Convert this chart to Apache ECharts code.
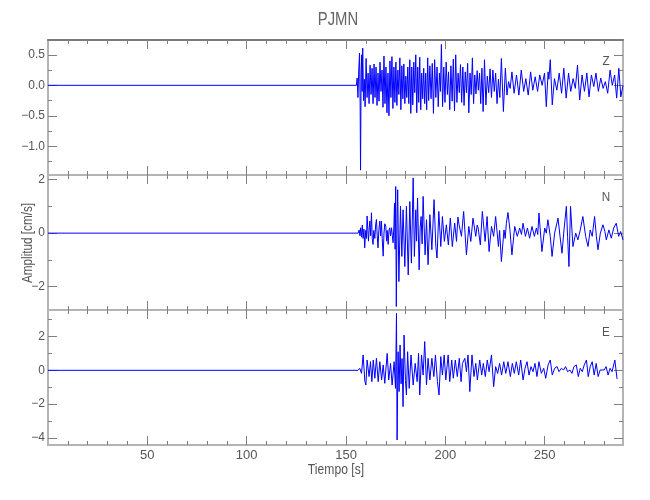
<!DOCTYPE html>
<html><head><meta charset="utf-8">
<script src="https://cdn.jsdelivr.net/npm/echarts@6/dist/echarts.min.js"></script>
<style>html,body{margin:0;padding:0;background:#fff}#c{width:650px;height:500px}</style>
</head><body><div id="c"></div>
<script>
// ---- data (time [s], amplitude [cm/s]) ----
const timeRange = [0, 289.4];
const xMajorTicks = [50, 100, 150, 200, 250];
const xMinorTicks = [10,20,30,40,60,70,80,90,110,120,130,140,160,170,180,190,210,220,230,240,260,270,280];

const channels = ['Z', 'N', 'E'];
const zRange = [-1.47, 0.743];
const nRange = [-2.87, 2.17];
const eRange = [-4.42, 3.57];
const zTicks = [0.5, 0, -0.5, -1];
const zTickLabels = ['0.5', '0.0', '\u22120.5', '\u22121.0'];
const zMinor = [0.25, -0.25, -0.75, -1.25];
const nTicks = [2, 0, -2];
const nTickLabels = ['2', '0', '\u22122'];
const nMinor = [1, -1];
const eTicks = [2, 0, -2, -4];
const eTickLabels = ['2', '0', '\u22122', '\u22124'];
const eMinor = [3, 1, -1, -3];

const zTrace = [[0,0],[155.2,0],[155.6,0.12],[156.0,-0.2],[156.4,0.25],[156.8,0.53],[157.1,-0.3],[157.3,-1.39],[157.6,0.2],[157.9,0.5],[158.1,-0.1],[158.4,0.61],[158.8,-0.25],[159.2,0.1],[159.6,-0.35],[160.1,0.44],[160.6,-0.2],[161.1,0.2],[161.6,-0.3],[162.1,0.33],[162.6,-0.15],[163.1,0.28],[163.6,-0.3],[164.1,0.35],[164.6,-0.2],[165.1,0.3],[165.6,-0.33],[166.1,0.2],[166.6,-0.26],[167.1,0.38],[167.6,-0.1],[168.1,0.25],[168.6,-0.36],[169.1,0.48],[169.6,-0.3],[170.1,0.3],[170.6,-0.45],[171.1,0.2],[171.6,-0.5],[172.1,0.4],[172.6,-0.2],[173.1,0.47],[173.6,-0.38],[174.1,0.3],[174.6,-0.28],[175.1,0.38],[175.6,-0.33],[176.1,0.25],[176.6,-0.15],[177.1,0.45],[177.6,-0.4],[178.1,0.32],[178.6,-0.22],[179.1,0.35],[179.6,-0.3],[180.1,0.15],[180.6,-0.2],[181.1,0.3],[181.6,-0.3],[182.1,0.42],[182.6,-0.46],[183.1,0.3],[183.6,-0.32],[184.1,0.38],[184.6,-0.12],[185.1,0.5],[185.6,-0.45],[186.1,0.3],[186.6,-0.28],[187.1,0.46],[187.6,-0.4],[188.1,0.2],[188.6,-0.22],[189.1,0.28],[189.6,-0.3],[190.1,0.2],[190.6,-0.4],[191.1,0.45],[191.6,-0.25],[192.2,0.32],[192.8,-0.22],[193.4,0.36],[194.0,-0.46],[194.6,0.42],[195.2,-0.2],[195.8,0.3],[196.4,-0.35],[197.0,0.2],[197.5,-0.1],[198.0,0.67],[198.6,-0.35],[199.2,0.3],[199.8,-0.28],[200.4,0.38],[201.0,-0.15],[201.6,0.22],[202.2,-0.4],[202.8,0.32],[203.4,-0.26],[204.0,0.43],[204.6,-0.42],[205.2,0.5],[205.8,-0.28],[206.4,0.2],[207.0,-0.12],[207.6,0.34],[208.2,-0.28],[208.8,0.3],[209.4,-0.33],[210.0,0.22],[210.6,-0.12],[211.2,0.36],[211.8,-0.45],[212.4,0.2],[213.0,-0.15],[213.6,0.45],[214.2,-0.3],[214.8,0.17],[215.4,-0.14],[216.0,0.24],[216.6,-0.08],[217.2,0.2],[217.8,-0.3],[218.4,0.28],[219.0,-0.43],[219.7,0.42],[220.4,-0.32],[221.1,0.15],[221.8,-0.12],[222.5,0.27],[223.2,-0.2],[223.9,0.25],[224.6,-0.1],[225.3,0.2],[226.0,-0.3],[226.7,0.1],[227.4,-0.2],[228.2,0.44],[229.2,-0.43],[230.2,0.28],[231.0,-0.16],[231.8,0.06],[232.6,-0.05],[233.5,0.22],[234.6,-0.13],[235.8,0.17],[237.0,-0.16],[238.2,0.25],[239.4,-0.1],[240.5,0.11],[241.7,-0.16],[242.9,0.22],[244.0,-0.08],[245.2,0.14],[246.4,-0.1],[247.5,0.17],[248.7,0.0],[249.9,0.2],[250.8,-0.35],[251.7,0.22],[252.1,0.1],[252.8,0.42],[253.8,-0.32],[254.9,0.11],[256.1,-0.08],[257.3,0.2],[258.5,-0.13],[259.6,0.28],[260.8,-0.21],[262.0,0.2],[263.1,-0.1],[264.3,0.11],[265.4,-0.05],[266.5,0.33],[267.6,-0.24],[268.8,0.17],[270.0,-0.1],[271.2,0.2],[272.3,-0.19],[273.5,0.17],[274.7,-0.02],[275.8,0.2],[277.0,-0.1],[278.2,0.12],[279.4,-0.05],[280.5,0.06],[281.7,-0.13],[282.9,0.25],[284.0,0.0],[285.2,0.17],[286.2,-0.21],[287.3,0.28],[288.3,-0.19],[289.4,0.0]];

const nTrace = [[0,0],[156.1,0],[156.6,0.12],[157.0,-0.1],[157.4,0.2],[157.8,-0.15],[158.2,0.3],[158.6,-0.2],[159.0,0.15],[159.4,-0.55],[159.9,0.1],[160.3,-0.2],[160.6,0.64],[161.0,0.1],[161.3,-0.3],[161.7,0.2],[162.0,0.45],[162.4,-0.1],[162.8,0.76],[163.2,-0.2],[163.6,-0.42],[164.0,0.1],[164.5,-0.2],[164.9,0.3],[165.3,0.51],[165.7,-0.1],[166.1,-0.55],[166.5,0.1],[167.0,0.45],[167.4,-0.1],[167.8,0.45],[168.2,-0.2],[168.7,-0.86],[169.1,0.0],[169.5,0.35],[170.0,0.26],[170.4,-0.3],[170.7,0.1],[171.2,-0.42],[171.6,0.1],[172.0,0.2],[172.4,-0.1],[172.9,0.2],[173.3,-0.1],[173.7,-0.36],[174.1,0.3],[174.4,1.12],[174.7,-0.6],[175.0,1.74],[175.3,-2.74],[175.7,0.5],[176.0,1.62],[176.6,-1.81],[177.4,1.0],[178.1,-0.87],[178.7,0.87],[179.6,-1.25],[180.4,1.0],[181.3,-1.56],[182.1,1.18],[182.9,-1.12],[183.8,2.06],[184.4,-0.87],[185.1,0.87],[185.5,-0.3],[186.0,1.31],[186.8,-1.37],[187.3,0.2],[187.8,0.62],[188.3,-0.4],[188.8,1.37],[189.8,-0.81],[190.5,0.5],[191.3,-1.18],[192.2,0.69],[193.2,-0.62],[194.3,1.25],[195.2,-0.5],[195.8,-0.93],[196.7,0.81],[197.7,-0.5],[198.5,0.62],[199.5,-0.31],[200.5,0.31],[201.5,-0.44],[202.5,0.56],[203.5,-0.5],[204.7,0.37],[205.6,-0.31],[206.3,0.6],[206.9,0.31],[208.1,-0.12],[209.2,0.81],[210.6,-0.81],[211.8,0.25],[212.8,-0.31],[213.9,0.56],[215.3,-0.12],[216.0,0.3],[216.5,0.19],[217.6,-0.44],[218.6,0.81],[220.0,-0.31],[221.0,0.62],[222.0,-0.69],[223.2,0.25],[224.3,-0.12],[225.3,0.62],[226.7,-0.5],[227.3,0.1],[228.2,-1.06],[229.5,0.12],[230.1,-0.2],[230.7,0.37],[231.5,0.77],[232.5,0.12],[233.5,-0.81],[234.9,0.25],[236.2,-0.12],[237.4,0.19],[238.3,-0.05],[239.1,0.37],[240.3,-0.12],[241.3,0.19],[242.4,-0.19],[243.6,0.25],[244.8,-0.12],[245.8,0.19],[246.5,-0.05],[247.1,0.75],[248.6,-0.69],[250.0,0.19],[250.8,0.0],[251.6,0.5],[252.8,-0.12],[253.7,-0.87],[255.0,0.0],[256.7,0.56],[257.7,-0.12],[258.7,-0.75],[259.7,0.12],[260.9,1.0],[261.5,-0.12],[262.2,-1.25],[263.0,1.0],[264.2,-0.5],[265.6,0.0],[266.7,-0.25],[267.9,0.12],[269.2,0.62],[270.6,-0.12],[271.8,-0.5],[272.9,0.12],[273.9,-0.12],[275.1,0.62],[276.0,-0.12],[276.8,-0.62],[278.0,0.0],[279.3,0.31],[280.3,0.06],[281.0,-0.25],[282.3,0.12],[283.5,-0.19],[284.7,0.19],[286.0,0.37],[287.2,-0.12],[288.2,0.06],[289.4,-0.25]];

const eTrace = [[0,0],[156.0,0],[156.9,0.12],[157.8,-0.18],[158.6,0.91],[159.5,-0.67],[160.0,-0.87],[160.6,0.61],[161.6,-0.37],[162.3,0.51],[163.0,-0.67],[163.7,0.61],[164.5,-0.47],[165.3,0.71],[166.2,-0.67],[167.0,0.51],[167.9,-0.57],[168.7,0.32],[169.5,-0.77],[170.7,1.0],[171.5,-0.57],[172.4,0.41],[173.2,-0.87],[174.2,0.51],[174.9,-1.07],[175.4,3.37],[175.7,-4.12],[176.2,1.1],[176.7,-1.26],[177.2,1.5],[177.7,-0.8],[178.2,0.7],[178.7,-2.15],[179.2,2.09],[179.9,-0.6],[180.4,-1.46],[181.0,1.1],[181.8,-1.07],[182.7,0.91],[183.8,-0.87],[184.8,0.41],[185.8,-0.67],[186.5,1.0],[187.1,-1.46],[188.0,0.91],[188.8,-0.28],[189.6,1.7],[190.5,-0.87],[191.3,0.71],[192.2,-0.57],[193.2,0.71],[194.2,-0.37],[195.0,0.91],[196.0,-0.67],[196.8,-1.46],[197.7,0.81],[198.5,-0.28],[199.4,0.91],[200.2,-0.57],[201.4,0.91],[202.2,-0.67],[203.2,0.61],[204.0,-0.47],[205.0,0.61],[206.0,-0.37],[207.0,0.71],[207.9,-0.67],[208.6,0.41],[209.8,0.71],[210.6,-0.08],[211.4,0.91],[212.3,-1.26],[213.4,0.91],[214.4,-0.37],[215.3,0.41],[216.1,-0.57],[217.3,0.61],[218.3,-0.28],[219.1,0.41],[220.1,-0.37],[221.1,0.61],[222.0,-0.08],[223.2,0.91],[224.3,-0.97],[225.3,0.22],[226.3,-0.18],[227.3,0.41],[228.3,-0.28],[229.4,0.51],[230.4,-0.18],[231.5,0.51],[232.7,-0.37],[233.7,0.41],[234.7,-0.18],[235.7,0.51],[236.9,-0.28],[237.9,0.61],[239.1,-0.57],[240.1,0.12],[241.1,0.51],[242.1,-0.28],[243.1,0.22],[244.1,-0.08],[245.1,0.41],[246.1,-0.37],[247.1,0.51],[248.3,-0.18],[249.5,0.12],[250.5,-0.47],[251.7,0.32],[252.8,0.61],[253.8,-0.28],[255.0,0.12],[256.2,0.22],[257.2,-0.08],[258.4,0.12],[259.5,0.02],[260.5,0.22],[261.5,-0.08],[262.7,0.02],[263.7,-0.18],[264.7,0.22],[265.9,0.32],[266.9,-0.37],[267.9,0.12],[268.9,-0.08],[269.9,0.32],[271.0,0.61],[271.9,-0.37],[272.9,0.22],[273.9,0.51],[274.9,-0.28],[275.9,0.41],[276.9,-0.37],[277.9,0.02],[278.9,0.12],[279.9,0.02],[280.9,0.22],[281.9,-0.28],[282.9,0.12],[283.9,-0.08],[285.3,0.61],[286.4,-0.51]];

// ---- layout / style ----
const FONT = "'Liberation Sans',Arial,sans-serif";
const TXT = '#555';
const TICK = '#808080';
const FRAME = '#b4b4b4';
const gridTops = [40, 175, 310];
const panels = [
  {range:zRange, ticks:zTicks, labels:zTickLabels, minor:zMinor, trace:zTrace},
  {range:nRange, ticks:nTicks, labels:nTickLabels, minor:nMinor, trace:nTrace},
  {range:eRange, ticks:eTicks, labels:eTickLabels, minor:eMinor, trace:eTrace}
];

const gridOpt = [], xAxes = [], yAxes = [], series = [];
panels.forEach((p, i) => {
  gridOpt.push({left:48, right:27, top:gridTops[i], height:135, show:true,
    borderColor:FRAME, borderWidth:2, backgroundColor:'rgba(0,0,0,0)'});
  [['bottom', xMajorTicks, 9], ['bottom', xMinorTicks, 4], ['top', xMajorTicks, 9], ['top', xMinorTicks, 4]]
  .forEach(([pos, vals, len], k) => {
    const darkTop = (i === 0 && k === 2);
    xAxes.push({gridIndex:i, type:'value', min:timeRange[0], max:timeRange[1], position:pos,
      splitLine:{show:false},
      axisLine:{show:darkTop, onZero:false, lineStyle:{color:'#7a7a7a', width:2}},
      axisTick:{show:true, inside:true, length:len, customValues:vals, lineStyle:{color:TICK, width:1}},
      axisLabel:(i === 2 && k === 0) ? {show:true, customValues:xMajorTicks, color:TXT,
        fontFamily:FONT, fontSize:13, margin:4, formatter:v => String(v)} : {show:false}
    });
  });
  [['left', p.ticks, 9], ['left', p.minor, 4], ['right', p.ticks, 9], ['right', p.minor, 4]]
  .forEach(([pos, vals, len], k) => {
    yAxes.push({gridIndex:i, type:'value', min:p.range[0], max:p.range[1], position:pos,
      splitLine:{show:false}, axisLine:{show:false, onZero:false},
      axisTick:{show:true, inside:true, length:len, customValues:vals, lineStyle:{color:TICK, width:1}},
      axisLabel:(k === 0) ? {show:true, customValues:p.ticks, color:TXT, fontFamily:FONT, fontSize:12, margin:3,
        formatter:v => { const j = p.ticks.findIndex(t => Math.abs(t - v) < 1e-9); return j >= 0 ? p.labels[j] : ''; }}
        : {show:false}
    });
  });
  series.push({type:'line', xAxisIndex:4*i, yAxisIndex:4*i, data:p.trace, showSymbol:false,
    symbol:'none', clip:true, lineStyle:{color:'#0000ff', width:1}, silent:true});
});

function label(text, x, y, size, sx, rot, color) {
  return {type:'text', x:x, y:y, rotation:rot || 0, scaleX:sx, scaleY:1,
    style:{text:text, font:size + 'px ' + FONT, fill:color || TXT,
      textAlign:'center', textVerticalAlign:'middle', align:'center', verticalAlign:'middle'}};
}

const chart = echarts.init(document.getElementById('c'), null, {renderer:'canvas'});
chart.setOption({
  animation:false,
  backgroundColor:'#ffffff',
  grid:gridOpt, xAxis:xAxes, yAxis:yAxes, series:series,
  graphic:[
    label('PJMN', 338, 20, 19, 0.78, 0, '#666'),
    label('Tiempo [s]', 336, 470, 15, 0.81),
    label('Amplitud [cm/s]', 28, 243, 15, 0.78, Math.PI/2),
    label(channels[0], 606, 61, 13, 0.9),
    label(channels[1], 606, 197, 13, 0.9),
    label(channels[2], 606, 332, 13, 0.9)
  ]
});
</script></body></html>
